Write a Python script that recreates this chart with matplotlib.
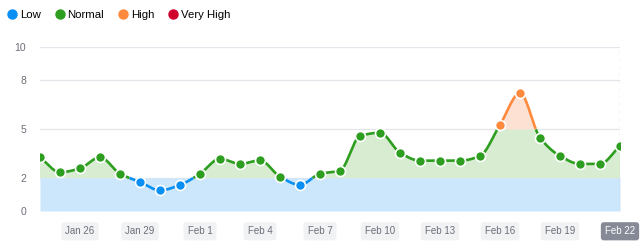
import numpy as np
import matplotlib
matplotlib.use("Agg")
import matplotlib.pyplot as plt
from matplotlib.lines import Line2D

plt.rcParams['font.family'] = ['Liberation Sans', 'DejaVu Sans']

# data
dates = ["Jan 24", "Jan 25", "Jan 26", "Jan 27", "Jan 28", "Jan 29", "Jan 30", "Jan 31",
         "Feb 1", "Feb 2", "Feb 3", "Feb 4", "Feb 5", "Feb 6", "Feb 7", "Feb 8", "Feb 9",
         "Feb 10", "Feb 11", "Feb 12", "Feb 13", "Feb 14", "Feb 15", "Feb 16", "Feb 17",
         "Feb 18", "Feb 19", "Feb 20", "Feb 21", "Feb 22"]
values = [3.27, 2.35, 2.59, 3.27, 2.26, 1.76, 1.25, 1.58, 2.26, 3.18, 2.86, 3.08, 2.08, 1.58,
          2.26, 2.45, 4.57, 4.77, 3.55, 3.06, 3.06, 3.06, 3.35, 5.26, 7.19, 4.47, 3.35, 2.86,
          2.86, 3.98]
tick_labels = ["Jan 26", "Jan 29", "Feb 1", "Feb 4", "Feb 7", "Feb 10", "Feb 13", "Feb 16",
               "Feb 19", "Feb 22"]
y_ticks = [0, 2, 5, 8, 10]
band_names = ["Low", "Normal", "High", "Very High"]
band_limits = [(0, 2), (2, 5), (5, 8), (8, 10)]
line_colors = ["#0a8ff5", "#2d9e1f", "#ff8a3d", "#d0002d"]
fill_colors = ["#cce6fc", "#d8ecd2", "#fde2d4", "#f8d0d8"]

x = np.arange(len(values))
y = np.array(values)


def monotone(xs, ys, n=3000):
    # monotone cubic (Fritsch-Carlson) for the smooth line
    h = np.diff(xs)
    d = np.diff(ys) / h
    m = np.zeros_like(ys)
    m[0], m[-1] = d[0], d[-1]
    for i in range(1, len(ys) - 1):
        if d[i - 1] * d[i] <= 0:
            m[i] = 0
        else:
            m[i] = 3 * (h[i - 1] + h[i]) / ((2 * h[i] + h[i - 1]) / d[i - 1] + (h[i] + 2 * h[i - 1]) / d[i])
    xx = np.linspace(xs[0], xs[-1], n)
    idx = np.clip(np.searchsorted(xs, xx) - 1, 0, len(xs) - 2)
    t = (xx - xs[idx]) / h[idx]
    h00 = 2 * t**3 - 3 * t**2 + 1
    h10 = t**3 - 2 * t**2 + t
    h01 = -2 * t**3 + 3 * t**2
    h11 = t**3 - t**2
    yy = h00 * ys[idx] + h10 * h[idx] * m[idx] + h01 * ys[idx + 1] + h11 * h[idx] * m[idx + 1]
    return xx, yy


xx, yy = monotone(x.astype(float), y)

fig = plt.figure(figsize=(6.4, 2.47), dpi=100)
ax = fig.add_axes([40 / 640, 36 / 247, 580 / 640, 164 / 247])

# uneven y axis: 0-2 and 8-10 narrower than 2-5 and 5-8
ypos = [0, 33, 82, 131, 164]
fwd = lambda v: np.interp(v, y_ticks, ypos)
inv = lambda p: np.interp(p, ypos, y_ticks)
ax.set_yscale('function', functions=(fwd, inv))
ax.set_ylim(0, 10)
ax.set_xlim(0, len(values) - 1)

for yt in y_ticks:
    ax.axhline(yt, color="#e4e6ec", lw=0.9, zorder=0)

# band fills
ax.fill_between(xx, 0, 2, color=fill_colors[0], lw=0, zorder=1)
for (lo, hi), fc in zip(band_limits[1:], fill_colors[1:]):
    top = np.clip(yy, lo, hi)
    ax.fill_between(xx, lo, top, where=yy > lo, color=fc, lw=0, zorder=1)

# line, coloured by band
for (lo, hi), lc in zip(band_limits, line_colors):
    seg = np.where((yy >= lo - 1e-9) & (yy <= hi + 1e-9), yy, np.nan)
    ax.plot(xx, seg, color=lc, lw=1.9, zorder=3, solid_capstyle='butt')

for xi, yi in zip(x, y):
    k = 0 if yi < 2 else 1 if yi < 5 else 2 if yi < 8 else 3
    ax.plot(xi, yi, 'o', ms=7.2, color=line_colors[k], mec='white', mew=1.2, zorder=4)

ax.axvline(len(values) - 1, color="#b5b8c2", lw=0.9, ls=(0, (3, 3)), zorder=2)

for s in ax.spines.values():
    s.set_visible(False)

ax.set_yticks(y_ticks)
ax.set_yticklabels([str(v) for v in y_ticks])
ax.tick_params(axis='y', length=0, pad=10, labelsize=7.5, labelcolor="#6c6f7a")

ax.set_xticks([dates.index(t) for t in tick_labels])
ax.set_xticklabels(tick_labels)
ax.tick_params(axis='x', length=0, pad=11, labelsize=7, labelcolor="#6c6f7a")
for lab in ax.get_xticklabels():
    if lab.get_text() == "Feb 22":
        lab.set_color("white")
        lab.set_bbox(dict(boxstyle="round,pad=0.42,rounding_size=0.3", fc="#868996", ec="none"))
    else:
        lab.set_bbox(dict(boxstyle="round,pad=0.42,rounding_size=0.3", fc="#f1f2f4", ec="none"))

handles = [Line2D([], [], marker='o', ls='', color=c, ms=6.5) for c in line_colors]
fig.legend(handles, band_names, loc='upper left', bbox_to_anchor=(0.0, 0.99), ncol=4,
           frameon=False, handlelength=0.7, handletextpad=0.35, columnspacing=1.3,
           fontsize=8.2, borderaxespad=0.3)

fig.savefig("out.png", dpi=100)
